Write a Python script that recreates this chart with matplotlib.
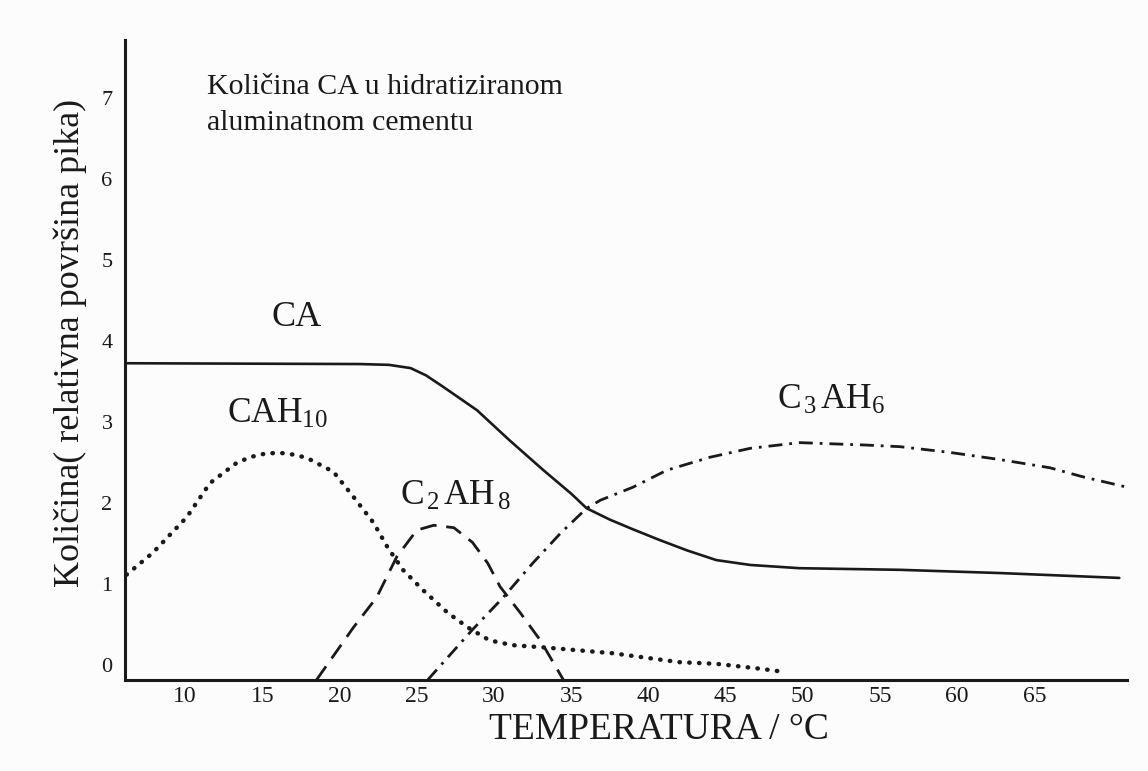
import matplotlib
matplotlib.use("Agg")
import matplotlib.pyplot as plt
import matplotlib.transforms as mtransforms

plt.rcParams['font.family'] = ['Liberation Serif', 'DejaVu Serif']
plt.rcParams['mathtext.fontset'] = 'custom'
plt.rcParams['mathtext.rm'] = 'Liberation Serif'
plt.rcParams['mathtext.it'] = 'Liberation Serif:italic'

# ---- data (temperature in °C, relative peak area) ----
ca_t = [6.1, 21.3, 23.2, 24.6, 25.6, 26.7, 28.9, 31.0, 33.2, 35.0, 36.0, 37.5, 39.0, 40.7,
        42.5, 44.4, 46.6, 49.8, 56.3, 62.8, 70.5]
ca_v = [3.91, 3.90, 3.89, 3.85, 3.76, 3.62, 3.33, 2.96, 2.59, 2.30, 2.12, 1.98, 1.86, 1.73,
        1.60, 1.48, 1.42, 1.38, 1.36, 1.32, 1.26]

cah10_t = [6.2, 7.9, 10.1, 11.6, 13.4, 14.4, 15.3, 16.3, 17.1, 17.9, 19.6, 20.9, 22.2, 23.1,
           24.1, 25.4, 27.0, 28.3, 29.7, 31.2, 33.4, 37.7, 42.0, 44.4, 47.2, 48.8]
cah10_v = [1.30, 1.57, 2.01, 2.43, 2.69, 2.76, 2.80, 2.80, 2.78, 2.74, 2.57, 2.26, 1.94, 1.64,
           1.36, 1.11, 0.83, 0.65, 0.49, 0.43, 0.40, 0.33, 0.22, 0.20, 0.14, 0.10]

c2ah8_t = [18.5, 20.9, 22.4, 23.7, 25.0, 26.1, 27.4, 28.6, 29.6, 30.4, 31.7, 33.0, 34.5]
c2ah8_v = [0.0, 0.65, 1.02, 1.52, 1.85, 1.91, 1.88, 1.70, 1.44, 1.15, 0.83, 0.49, 0.0]

c3ah6_t = [25.7, 28.6, 30.6, 32.5, 34.3, 36.0, 36.9, 39.0, 41.2, 44.0, 46.6, 49.8, 54.1, 56.3,
           59.5, 62.8, 66.0, 68.1, 71.0]
c3ah6_v = [0.0, 0.62, 1.02, 1.44, 1.81, 2.12, 2.22, 2.38, 2.59, 2.75, 2.86, 2.93, 2.90, 2.88,
           2.81, 2.72, 2.62, 2.51, 2.38]

x_ticks = [10, 15, 20, 25, 30, 35, 40, 45, 50, 55, 60, 65]
y_ticks = [0, 1, 2, 3, 4, 5, 6, 7]

W, H = 1148, 771
fig = plt.figure(figsize=(W / 100, H / 100), dpi=100)
fig.patch.set_facecolor('#fcfcfc')
ax = fig.add_axes([125 / W, (H - 680) / H, (1127 - 125) / W, 640 / H])
ax.set_facecolor('none')

ink = '#1a1a1a'
ax.plot(ca_t, ca_v, color=ink, lw=1.9, solid_joinstyle='round', solid_capstyle='round')
ax.plot(cah10_t, cah10_v, color=ink, lw=3.2, linestyle=(0, (0.1, 2.1)), dash_capstyle='round')
ax.plot(c2ah8_t, c2ah8_v, color=ink, lw=2.0, linestyle=(0, (6, 3.5)))
ax.plot(c3ah6_t, c3ah6_v, color=ink, lw=2.0, linestyle=(0, (5, 2.5, 1, 2.5)))

ax.set_xlim(6.1, 71.0)
ax.set_ylim(0, 7.9)

for s in ['top', 'right']:
    ax.spines[s].set_visible(False)
for s in ['left', 'bottom']:
    ax.spines[s].set_linewidth(2.2)
    ax.spines[s].set_color(ink)

ax.set_xticks(x_ticks)
ax.set_yticks(y_ticks)
ax.tick_params(axis='both', length=0, colors=ink)
ax.tick_params(axis='x', labelsize=17, pad=4)
ax.tick_params(axis='y', labelsize=16, pad=9)
off = mtransforms.ScaledTranslation(0, 15 / 100, fig.dpi_scale_trans)
for lab in ax.get_yticklabels():
    lab.set_transform(lab.get_transform() + off)

fig.text(70 / W, 1 - 343 / H, 'Količina( relativna površina pika)', rotation=90,
         ha='center', va='center', fontsize=26, color=ink)
fig.text(659 / W, 1 - 730 / H, 'TEMPERATURA / °C', ha='center', va='center',
         fontsize=27, color=ink)

fig.text(207 / W, 1 - 105 / H, 'Količina CA u hidratiziranom\naluminatnom cementu',
         ha='left', va='center', fontsize=21.5, color=ink, linespacing=1.45)
fig.text(297 / W, 1 - 318 / H, 'CA', ha='center', va='center', fontsize=26, color=ink)
fig.text(227 / W, 1 - 414 / H, r'CAH$_{\mathrm{10}}$', ha='left', va='center', fontsize=25.5, color=ink)
fig.text(400 / W, 1 - 496 / H, r'C$_{\mathrm{\,2\,}}$AH$_{\mathrm{\,8}}$', ha='left', va='center', fontsize=25.5, color=ink)
fig.text(777 / W, 1 - 400 / H, r'C$_{\mathrm{\,3\,}}$AH$_{\mathrm{6}}$', ha='left', va='center', fontsize=25.5, color=ink)

fig.savefig('out.png', dpi=100, facecolor=fig.get_facecolor())
